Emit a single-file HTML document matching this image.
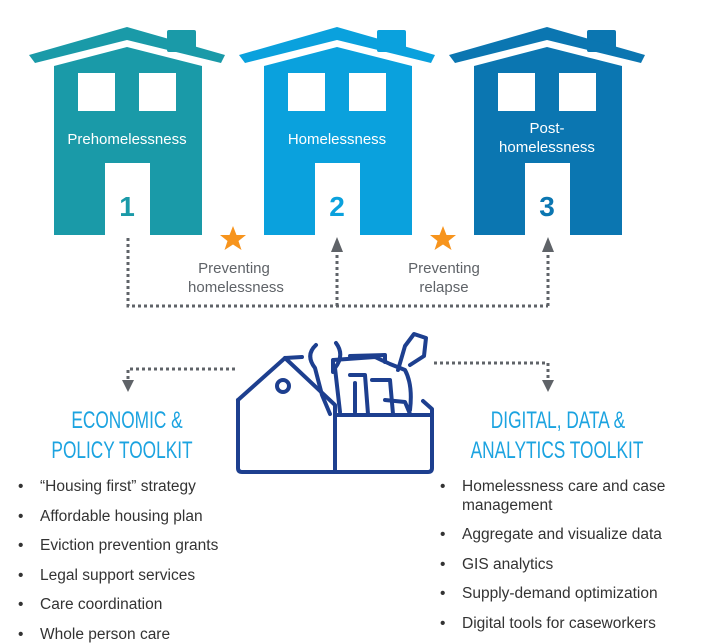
<!DOCTYPE html>
<html><head><meta charset="utf-8"><style>
html,body{margin:0;padding:0;background:#fff;}
svg{display:block;}
</style></head><body>
<svg width="705" height="643" viewBox="0 0 705 643" xmlns="http://www.w3.org/2000/svg" font-family="Liberation Sans, sans-serif">
<defs>
<g id="house">
  <rect x="147" y="30" width="29" height="22" rx="2"/>
  <path d="M9,55 L107,27 L205,55 L201,63 L107,40 L15,63 Z"/>
  <path d="M34,66 L107,47 L182,66 L182,235 L34,235 Z"/>
</g>
</defs>
<g fill="#1a9aa8"><use href="#house" x="20" y="0"/></g>
<g fill="#0aa1dd"><use href="#house" x="230" y="0"/></g>
<g fill="#0b76b1"><use href="#house" x="440" y="0"/></g>
<g fill="#fff">
  <rect x="78" y="73" width="37" height="38"/><rect x="139" y="73" width="37" height="38"/>
  <rect x="105" y="163" width="45" height="73"/>
  <rect x="288" y="73" width="37" height="38"/><rect x="349" y="73" width="37" height="38"/>
  <rect x="315" y="163" width="45" height="73"/>
  <rect x="498" y="73" width="37" height="38"/><rect x="559" y="73" width="37" height="38"/>
  <rect x="525" y="163" width="45" height="73"/>
</g>
<g fill="#fff" font-size="15" text-anchor="middle">
  <text x="127" y="144">Prehomelessness</text>
  <text x="337" y="144">Homelessness</text>
  <text x="547" y="133">Post-</text>
  <text x="547" y="152">homelessness</text>
</g>
<g font-size="28" font-weight="bold" text-anchor="middle">
  <text x="127" y="216" fill="#1a9aa8">1</text>
  <text x="337" y="216" fill="#0aa1dd">2</text>
  <text x="547" y="216" fill="#0b76b1">3</text>
</g>
<g stroke="#5f6368" stroke-width="3" stroke-dasharray="3,3" fill="none">
  <path d="M128,238 L128,306 L548,306"/>
  <path d="M337,306 L337,250"/>
  <path d="M548,306 L548,250"/>
  <path d="M235,369 L128,369 L128,382"/>
  <path d="M434,363 L548,363 L548,382"/>
</g>
<g fill="#5f6368">
  <path d="M331,252 L337,237 L343,252 Z"/>
  <path d="M542,252 L548,237 L554,252 Z"/>
  <path d="M122,380 L128,392 L134,380 Z"/>
  <path d="M542,380 L548,392 L554,380 Z"/>
</g>
<g fill="#f7941d">
  <path d="M233,226 L236.5,235 L246,235 L238.5,241 L241.5,250 L233,244.5 L224.5,250 L227.5,241 L220,235 L229.5,235 Z"/>
  <path d="M443,226 L446.5,235 L456,235 L448.5,241 L451.5,250 L443,244.5 L434.5,250 L437.5,241 L430,235 L439.5,235 Z"/>
</g>
<g fill="#5f6368" font-size="15" text-anchor="middle">
  <text x="234" y="273">Preventing</text>
  <text x="236" y="292">homelessness</text>
  <text x="444" y="273">Preventing</text>
  <text x="444" y="292">relapse</text>
</g>
<!-- toolbox -->
<g stroke="#1d3f8f" stroke-width="4" fill="none" stroke-linejoin="round" stroke-linecap="round">
  <path d="M238,400 L238,468 Q238,472 242,472 L428,472 Q432,472 432,468 L432,409 L423,401"/>
  <path d="M238,400 L285,358 L335,405 L335,472"/>
  <path d="M285,358 L302,357"/>
  <path d="M335,415 L432,415"/>
  <circle cx="283" cy="386" r="6"/>
  <path d="M316,345 Q305,355 315,368 L322,395 L330,414"/>
  <path d="M336,343 Q345,355 335,368 L340,412"/>
  <path d="M333,372 L333,360 L375,357 L390,364 L405,370 Q413,385 410,410"/>
  <path d="M350,356 L385,355 L385,362"/>
  <path d="M350,375 L365,375 L368,414"/>
  <path d="M372,380 L390,380 L393,414"/>
  <path d="M385,400 L405,402 L410,414"/>
  <path d="M398,370 L405,346 L414,334 L426,338 L424,356 L410,365"/>
  <path d="M355,383 L355,412"/>
</g>
<g fill="#1ba3e0" font-size="24" text-anchor="middle">
  <text x="0" y="0" transform="translate(127,428) scale(0.72,1)">ECONOMIC &amp;</text>
  <text x="0" y="0" transform="translate(122,458) scale(0.72,1)">POLICY TOOLKIT</text>
  <text x="0" y="0" transform="translate(558,428) scale(0.72,1)">DIGITAL, DATA &amp;</text>
  <text x="0" y="0" transform="translate(557,458) scale(0.72,1)">ANALYTICS TOOLKIT</text>
</g>
<g fill="#333" font-size="15.5">
  <text x="18" y="491">•</text><text x="40" y="491">“Housing first” strategy</text>
  <text x="18" y="521">•</text><text x="40" y="521">Affordable housing plan</text>
  <text x="18" y="550">•</text><text x="40" y="550">Eviction prevention grants</text>
  <text x="18" y="580">•</text><text x="40" y="580">Legal support services</text>
  <text x="18" y="609">•</text><text x="40" y="609">Care coordination</text>
  <text x="18" y="639">•</text><text x="40" y="639">Whole person care</text>
  <text x="440" y="491">•</text><text x="462" y="491">Homelessness care and case</text>
  <text x="462" y="510">management</text>
  <text x="440" y="539">•</text><text x="462" y="539">Aggregate and visualize data</text>
  <text x="440" y="569">•</text><text x="462" y="569">GIS analytics</text>
  <text x="440" y="598">•</text><text x="462" y="598">Supply-demand optimization</text>
  <text x="440" y="628">•</text><text x="462" y="628">Digital tools for caseworkers</text>
</g>
</svg>
</body></html>
